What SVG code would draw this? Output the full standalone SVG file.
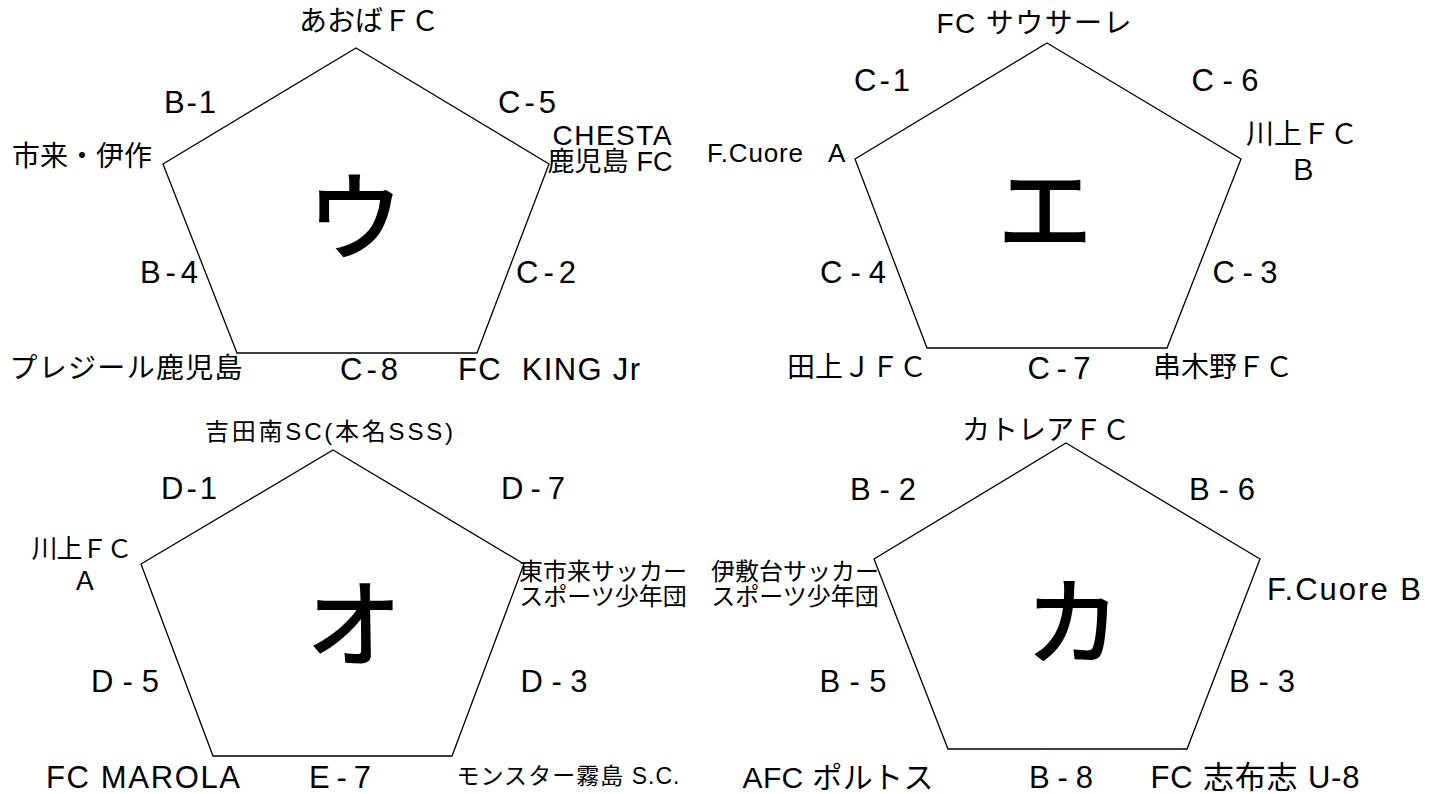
<svg xmlns="http://www.w3.org/2000/svg" width="1439" height="794" viewBox="0 0 1439 794">
<style>
.pg{fill:#fff;stroke:#000;stroke-width:1.3;stroke-linejoin:miter}
text{font-family:"Liberation Sans","Noto Sans CJK JP",sans-serif;fill:#000;text-anchor:middle}
.lb{font-size:31px}
.jp{font-family:"Noto Sans CJK JP",sans-serif;font-size:28px}
.sm{font-family:"Noto Sans CJK JP",sans-serif;font-size:24px}
.big{font-family:"Noto Sans CJK JP",sans-serif;font-size:96px;font-weight:500}
</style>
<rect width="1439" height="794" fill="#fff"/>
<g id="group-u">
<polygon class="pg" points="356,48 549,164 477,353 237,353 163,164"/>
<text class="big" x="355" y="252">ウ</text>
<text class="jp" x="369" y="31">あおばＦＣ</text>
<text class="lb" x="190" y="113" textLength="52">B-1</text>
<text class="lb" x="527" y="113" textLength="58">C-5</text>
<text style="font-size:28px"><tspan x="612" y="145" textLength="119">CHESTA</tspan><tspan x="610" y="171" style="font-size:27px" textLength="125">鹿児島 FC</tspan></text>
<text class="jp" x="82" y="166">市来・伊作</text>
<text class="lb" x="169" y="283" textLength="58">B-4</text>
<text class="lb" x="546" y="283" textLength="60">C-2</text>
<text class="jp" x="126" y="378" textLength="233">プレジール鹿児島</text>
<text class="lb" x="369" y="380" textLength="58">C-8</text>
<text class="lb" x="549" y="380" textLength="182" xml:space="preserve">FC  KING Jr</text>
</g>
<g id="group-e">
<polygon class="pg" points="1047,43 1241,159 1167,348 927,348 855,159"/>
<text class="big" x="1045" y="245">エ</text>
<text style="font-size:28px" x="1034" y="33" textLength="195">FC サウサーレ</text>
<text class="lb" x="882" y="91" textLength="56">C-1</text>
<text class="lb" x="1225" y="91" textLength="67">C-6</text>
<text style="font-size:26px;text-anchor:start"><tspan x="707" y="162" textLength="96">F.Cuore</tspan><tspan x="828" y="162">A</tspan></text>
<text class="jp"><tspan x="1302" y="144">川上ＦＣ</tspan><tspan x="1303" y="180">Ｂ</tspan></text>
<text class="lb" x="853" y="283" textLength="66">C-4</text>
<text class="lb" x="1245" y="283" textLength="65">C-3</text>
<text class="jp" x="857" y="377">田上ＪＦＣ</text>
<text class="lb" x="1059" y="379" textLength="63">C-7</text>
<text class="jp" x="1223" y="377">串木野ＦＣ</text>
</g>
<g id="group-o">
<polygon class="pg" points="333,450 524,564 452,756 213,756 141,564"/>
<text class="big" x="354" y="659">オ</text>
<text style="font-size:24px" x="329" y="440" textLength="248">吉田南SC(本名SSS)</text>
<text class="lb" x="189" y="499" textLength="56">D-1</text>
<text class="lb" x="533" y="499" textLength="64">D-7</text>
<text style="font-family:'Noto Sans CJK JP',sans-serif;font-size:26px"><tspan x="82" y="558" textLength="101">川上ＦＣ</tspan><tspan x="85" y="590">Ａ</tspan></text>
<text class="sm"><tspan x="603" y="580">東市来サッカー</tspan><tspan x="603" y="605">スポーツ少年団</tspan></text>
<text class="lb" x="125" y="692" textLength="68">D-5</text>
<text class="lb" x="554" y="692" textLength="67">D-3</text>
<text class="lb" x="143" y="788" textLength="194">FC MAROLA</text>
<text class="lb" x="340" y="788" textLength="62">E-7</text>
<text style="font-size:23px" x="568" y="784" textLength="223">モンスター霧島 S.C.</text>
</g>
<g id="group-ka">
<polygon class="pg" points="1066,443 1260,559 1187,749 948,749 874,559"/>
<text class="big" x="1073" y="657">カ</text>
<text class="jp" x="1046" y="440">カトレアＦＣ</text>
<text class="lb" x="883" y="500" textLength="66">B-2</text>
<text class="lb" x="1222" y="500" textLength="66">B-6</text>
<text class="sm"><tspan x="795" y="580">伊敷台サッカー</tspan><tspan x="795" y="605">スポーツ少年団</tspan></text>
<text class="lb" x="1344" y="600" textLength="154">F.Cuore B</text>
<text class="lb" x="853" y="692" textLength="67">B-5</text>
<text class="lb" x="1262" y="692" textLength="66">B-3</text>
<text style="font-size:30px" x="838" y="788" textLength="191">AFC ポルトス</text>
<text class="lb" x="1061" y="788" textLength="64">B-8</text>
<text class="lb" x="1255" y="788" textLength="209">FC 志布志 U-8</text>
</g>
</svg>
